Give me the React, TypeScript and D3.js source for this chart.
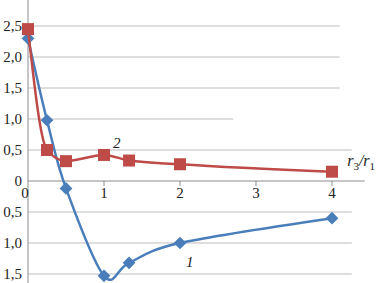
import React from "react";
import * as d3 from "d3";

const width = 376;
const height = 283;

// r3/r1 values and the two curves
const ratios = [0, 0.25, 0.5, 1, 1.33, 2, 4];
const curve1 = [2.3, 0.98, -0.12, -1.53, -1.32, -1.0, -0.6];
const curve2 = [2.45, 0.5, 0.32, 0.42, 0.33, 0.27, 0.15];

const yTicks = [2.5, 2, 1.5, 1, 0.5, 0, -0.5, -1, -1.5];
const yTickLabels = ["2,5", "2,0", "1,5", "1,0", "0,5", "0", "0,5", "1,0", "1,5"];
const xTicks = [0, 1, 2, 3, 4];
// how far each gridline runs (in r3/r1 units)
const gridEnds = [4.1, 4.1, 4.1, 2.7, 4.26, 4.43, 4.26, 4.26, 4.26];

const blue = "#4a7ebb";
const red = "#be4b48";
const font = "Liberation Serif, DejaVu Serif, serif";

const x = d3.scaleLinear().domain([0, 4]).range([28, 332]);
const y = d3.scaleLinear().domain([-1.5, 2.5]).range([274, 26]);

const line1 = d3
  .line<number>()
  .x((d, i) => x(ratios[i]))
  .y(d => y(d))
  .curve(d3.curveCardinal.tension(0));

const line2 = d3
  .line<number>()
  .x((d, i) => x(ratios[i]))
  .y(d => y(d))
  .curve(d3.curveMonotoneX);

const txt = { fontFamily: font };

export default function App() {
  return (
    <div style={{ position: "fixed", left: 0, top: 0 }}>
      <svg width={width} height={height} style={{ display: "block", background: "#fff" }}>
        {/* gridlines */}
        {yTicks.map((t, i) => (
          <line
            key={"g" + i}
            x1={x(0)}
            x2={x(gridEnds[i])}
            y1={y(t)}
            y2={y(t)}
            stroke={t === 0 ? "#8c8c8c" : "#bdbdbd"}
            strokeWidth={1}
          />
        ))}
        {/* y axis */}
        <line x1={x(0)} x2={x(0)} y1={0} y2={height} stroke="#8c8c8c" />
        {/* x ticks */}
        {xTicks.slice(1).map(t => (
          <line key={"t" + t} x1={x(t)} x2={x(t)} y1={y(0)} y2={y(0) + 5} stroke="#8c8c8c" />
        ))}
        {/* y labels */}
        {yTicks.map((t, i) => (
          <text
            key={"yl" + i}
            x={22}
            y={y(t)}
            dy="0.35em"
            textAnchor="end"
            style={txt}
            fontSize={15}
            fill="#222"
          >
            {yTickLabels[i]}
          </text>
        ))}
        {/* x labels */}
        {xTicks.map(t => (
          <text
            key={"xl" + t}
            x={t === 0 ? x(t) - 3 : x(t)}
            y={y(0) + 17}
            textAnchor="middle"
            style={txt}
            fontSize={15}
            fill="#222"
          >
            {t}
          </text>
        ))}
        {/* curve 1 */}
        <path d={line1(curve1) || ""} fill="none" stroke={blue} strokeWidth={2.5} />
        {curve1.map((v, i) => (
          <rect
            key={"d" + i}
            x={x(ratios[i]) - 4.5}
            y={y(v) - 4.5}
            width={9}
            height={9}
            fill={blue}
            transform={`rotate(45 ${x(ratios[i])} ${y(v)})`}
          />
        ))}
        {/* curve 2 */}
        <path d={line2(curve2) || ""} fill="none" stroke={red} strokeWidth={2.5} />
        {curve2.map((v, i) => (
          <rect
            key={"s" + i}
            x={x(ratios[i]) - 6}
            y={y(v) - 6}
            width={12}
            height={12}
            fill={red}
          />
        ))}
        {/* curve labels */}
        <text x={x(1.12)} y={y(0.53)} style={txt} fontSize={15} fontStyle="italic" fill="#222">
          2
        </text>
        <text x={x(2.08)} y={y(-1.39)} style={txt} fontSize={15} fontStyle="italic" fill="#222">
          1
        </text>
        <text x={x(4.2)} y={y(0.25)} style={txt} fontSize={16} fontStyle="italic" fill="#222">
          r
          <tspan fontSize={11} dy={4} fontStyle="normal">3</tspan>
          <tspan dy={-4}>/r</tspan>
          <tspan fontSize={11} dy={4} fontStyle="normal">1</tspan>
        </text>
      </svg>
    </div>
  );
}
